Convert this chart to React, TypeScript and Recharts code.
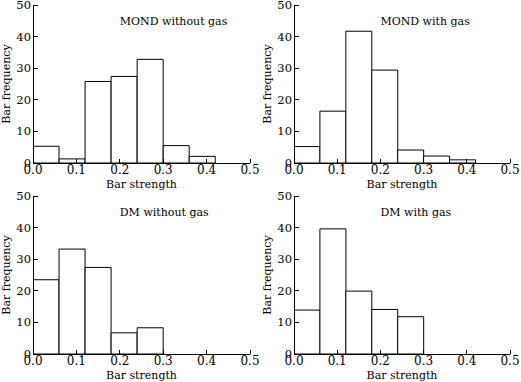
import React from 'react';
import { BarChart, Bar, XAxis, YAxis, ReferenceDot } from 'recharts';

const binCenters = [0.03, 0.09, 0.15, 0.21, 0.27, 0.33, 0.39];
const mondWithoutGas = [5.3, 1.3, 25.8, 27.4, 32.8, 5.5, 2.1];
const mondWithGas = [5.2, 16.4, 41.7, 29.4, 4.1, 2.2, 1.0];
const dmWithoutGas = [23.5, 33.2, 27.4, 6.7, 8.3];
const dmWithGas = [13.9, 39.6, 19.9, 14.1, 11.8];

const xTicks = [0, 0.1, 0.2, 0.3, 0.4, 0.5];
const yTicks = [0, 10, 20, 30, 40, 50];
const titles = ['MOND without gas', 'MOND with gas', 'DM without gas', 'DM with gas'];
const xLabel = 'Bar strength';
const yLabel = 'Bar frequency';

const FONT = '"DejaVu Serif", serif';
const xTickStyle = { fill: '#000', stroke: 'none', fontSize: 12, fontFamily: FONT };
const yTickStyle = { fill: '#000', stroke: 'none', fontSize: 11.5, fontFamily: FONT };
const lineStyle = { stroke: '#000', strokeWidth: 1, shapeRendering: 'crispEdges' };

const PAD = 10;

type PanelProps = { title: string; values: number[]; left: number; top: number; mr: number };

function Panel({ title, values, left, top, mr }: PanelProps) {
  const data = values.map((v, i) => ({ x: binCenters[i], v }));
  return (
    <div style={{ position: 'absolute', left, top: top - PAD, width: 260, height: 191 + PAD }}>
      <BarChart
        width={260}
        height={191 + PAD}
        data={data}
        margin={{ top: 5 + PAD, right: mr, bottom: 0, left: 0 }}
        barCategoryGap={0}
        barGap={0}
        style={{ fontFamily: FONT }}
      >
        <XAxis
          dataKey="x"
          type="number"
          domain={[0, 0.5]}
          ticks={xTicks}
          allowDataOverflow
          height={28}
          stroke="#000"
          tickSize={-4}
          tickMargin={6}
          tick={xTickStyle}
          tickFormatter={(v: number) => v.toFixed(1)}
          axisLine={lineStyle}
          tickLine={lineStyle}
          interval={0}
          label={{ value: xLabel, position: 'insideBottom', offset: 3, fill: '#000', fontSize: 11, fontFamily: FONT }}
        />
        <XAxis
          xAxisId="top"
          orientation="top"
          dataKey="x"
          type="number"
          domain={[0, 0.5]}
          ticks={xTicks}
          allowDataOverflow
          height={0}
          stroke="#000"
          tickSize={-4}
          tick={false}
          axisLine={lineStyle}
          tickLine={lineStyle}
          interval={0}
        />
        <YAxis
          type="number"
          domain={[0, 50]}
          ticks={yTicks}
          width={33}
          stroke="#000"
          tickSize={-5}
          tickMargin={7}
          tick={yTickStyle}
          axisLine={lineStyle}
          tickLine={lineStyle}
          interval={0}
          label={{
            value: yLabel,
            angle: -90,
            position: 'insideLeft',
            offset: 6,
            fill: '#000',
            fontSize: 11,
            fontFamily: FONT,
            style: { textAnchor: 'middle' },
          }}
        />
        <YAxis
          yAxisId="right"
          orientation="right"
          type="number"
          domain={[0, 50]}
          ticks={yTicks}
          width={0}
          stroke="#000"
          tickSize={-5}
          tick={false}
          axisLine={lineStyle}
          tickLine={lineStyle}
          interval={0}
        />
        <Bar dataKey="v" fill="#fff" stroke="#000" strokeWidth={1} isAnimationActive={false} />
        <ReferenceDot
          x={0.2}
          y={45}
          r={0}
          fill="none"
          stroke="none"
          label={{ value: title, position: 'right', offset: 0, fill: '#000', fontSize: 11, fontFamily: FONT }}
        />
      </BarChart>
    </div>
  );
}

export default function App() {
  return (
    <div style={{ position: 'absolute', left: 0, top: 0, width: 521, height: 382, background: '#fff', overflow: 'hidden' }}>
      <Panel title={titles[0]} values={mondWithoutGas} left={0} top={0} mr={10} />
      <Panel title={titles[1]} values={mondWithGas} left={261} top={0} mr={11} />
      <Panel title={titles[2]} values={dmWithoutGas} left={0} top={191} mr={10} />
      <Panel title={titles[3]} values={dmWithGas} left={261} top={191} mr={11} />
    </div>
  );
}
